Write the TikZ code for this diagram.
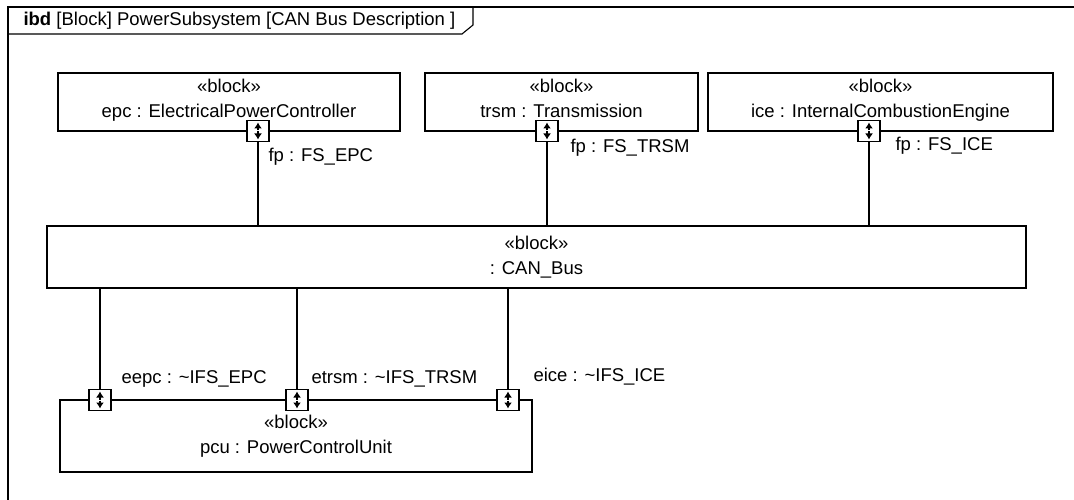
\documentclass[tikz,border=0pt]{standalone}
\usepackage{fontspec}
\setmainfont{Liberation Sans}
\usetikzlibrary{arrows.meta}
\begin{document}
\begin{tikzpicture}[x=1pt, y=-1pt, every node/.style={font=\fontsize{18.5}{25}\selectfont},
                    block/.style={draw, line width=1.2pt, align=center, inner sep=0pt},
                    port/.style={draw, fill=white, line width=1.3pt, minimum width=22pt, minimum height=21pt, inner sep=0pt,
                      path picture={\draw[line width=1.4pt, -{Latex[length=6pt,width=8pt]}] ([yshift=0.5pt]path picture bounding box.center) -- ([yshift=8.5pt]path picture bounding box.center);
                                    \draw[line width=1.4pt, -{Latex[length=6pt,width=8pt]}] ([yshift=-0.5pt]path picture bounding box.center) -- ([yshift=-8.5pt]path picture bounding box.center);}},
                    wire/.style={line width=1.4pt}]
                    \useasboundingbox (0,0) rectangle (1074,500);
                    \draw[line width=1.3pt] (1090,7) -| (8,510);
                    \draw[line width=1.1pt] (8,34) -- (462,34) -- (473,25) -- (473,7);
                    \node[anchor=west] (title) at (20,21) {\textbf{ibd} [Block] PowerSubsystem [CAN Bus Description ]};
                    \node[block, minimum width=342pt, minimum height=58pt] (epc) at (229,102) {«block»\\epc : ElectricalPowerController\\[-17pt]\mbox{}};
                    \node[block, minimum width=273pt, minimum height=58pt] (trsm) at (561.5,102) {«block»\\trsm : Transmission\\[-17pt]\mbox{}};
                    \node[block, minimum width=345pt, minimum height=58pt] (ice) at (880.5,102) {«block»\\ice : InternalCombustionEngine\\[-17pt]\mbox{}};
                    \node[block, minimum width=979pt, minimum height=62pt] (bus) at (536.5,257) {«block»\\: CAN\_Bus};
                    \node[block, minimum width=472pt, minimum height=72pt] (pcu) at (296,436) {«block»\\pcu : PowerControlUnit};
                    \node[port] (fpE) at (258,131) {}; \node[port] (fpT) at (547,131) {}; \node[port] (fpI) at (869,131) {};
                    \node[port] (eE) at (100,400) {}; \node[port] (eT) at (297,400) {}; \node[port] (eI) at (508,400) {};
                    \draw[wire] (fpE.south) -- (fpE.south |- bus.north);
                    \draw[wire] (fpT.south) -- (fpT.south |- bus.north);
                    \draw[wire] (fpI.south) -- (fpI.south |- bus.north);
                    \draw[wire] (eE.north) -- (eE.north |- bus.south);
                    \draw[wire] (eT.north) -- (eT.north |- bus.south);
                    \draw[wire] (eI.north) -- (eI.north |- bus.south);
                    \node[anchor=west] (lfpE) at (265,157) {fp : FS\_EPC};
                    \node[anchor=west] (lfpT) at (567,148) {fp : FS\_TRSM};
                    \node[anchor=west] (lfpI) at (892,146) {fp : FS\_ICE};
                    \node[anchor=west] (leE) at (118,379) {eepc : \textasciitilde IFS\_EPC};
                    \node[anchor=west] (leT) at (308,379) {etrsm : \textasciitilde IFS\_TRSM};
                    \node[anchor=west] (leI) at (530,377) {eice : \textasciitilde IFS\_ICE};
                \end{tikzpicture}
\end{document}
